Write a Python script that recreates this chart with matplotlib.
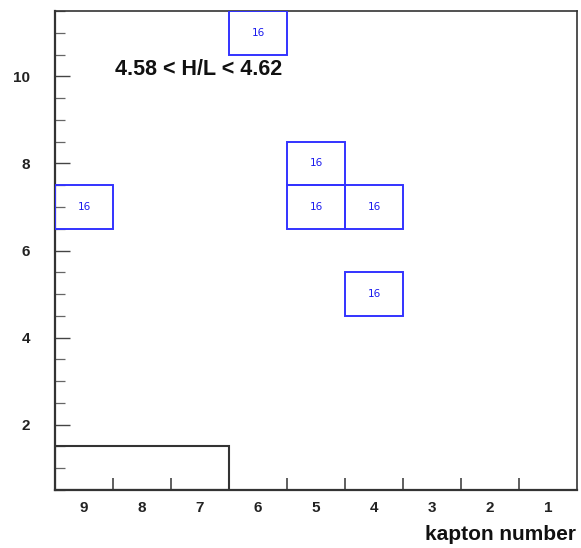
import matplotlib
matplotlib.use("Agg")
import matplotlib.pyplot as plt
from matplotlib.patches import Rectangle
from matplotlib.ticker import MultipleLocator, FixedLocator

plt.rcParams['font.family'] = ['Liberation Sans', 'DejaVu Sans']

# Filled cells of the 2D histogram: kapton number, y bin, content
cell_x = [6, 5, 5, 4, 9, 4]
cell_y = [11, 8, 7, 7, 7, 5]
cell_val = [16, 16, 16, 16, 16, 16]

# Outline box (kapton range and y range)
box_x = [9.5, 6.5]
box_y = [0.5, 1.5]

x_labels = [9, 8, 7, 6, 5, 4, 3, 2, 1]
y_labels = [2, 4, 6, 8, 10]

fig = plt.figure(figsize=(5.81, 5.48), dpi=100)
ax = fig.add_axes([0.0947, 0.1058, 0.8984, 0.8741])

ax.set_xlim(9.5, 0.5)
ax.set_ylim(0.5, 11.5)

for x, y, v in zip(cell_x, cell_y, cell_val):
    ax.add_patch(Rectangle((x - 0.5, y - 0.5), 1, 1, fill=False,
                           edgecolor='#3333ff', linewidth=1.4, zorder=3))
    ax.text(x, y, str(v), ha='center', va='center', fontsize=7.5,
            family='DejaVu Sans', color='#1a1aee', zorder=4)

ax.add_patch(Rectangle((min(box_x), min(box_y)), abs(box_x[1] - box_x[0]),
                       abs(box_y[1] - box_y[0]), fill=False,
                       edgecolor='#333333', linewidth=1.5, zorder=2))

ax.text(7.03, 10.16, "4.58 < H/L < 4.62", ha='center', va='center',
        fontsize=15.5, fontweight='bold', color='#111111')

# x axis: labels at integer bins, ticks at bin edges
ax.xaxis.set_major_locator(FixedLocator(x_labels))
ax.set_xticklabels([str(v) for v in x_labels], fontsize=11,
                   fontweight='bold', color='#222222')
ax.xaxis.set_minor_locator(FixedLocator([v + 0.5 for v in x_labels[1:]]))
ax.tick_params(axis='x', which='major', length=0, pad=8)
ax.tick_params(axis='x', which='minor', direction='in', length=9,
               width=1.2, color='#444444')

# y axis
ax.yaxis.set_major_locator(FixedLocator(y_labels))
ax.set_yticklabels([str(v) for v in y_labels], fontsize=11,
                   fontweight='bold', color='#222222')
ax.yaxis.set_minor_locator(MultipleLocator(0.5))
ax.tick_params(axis='y', which='major', direction='in', length=11,
               width=1.0, color='#444444', pad=18)
ax.tick_params(axis='y', which='minor', direction='in', length=7,
               width=0.9, color='#666666')

for s in ax.spines.values():
    s.set_linewidth(1.2)
    s.set_color('#333333')
ax.spines['left'].set_linewidth(1.6)
ax.spines['bottom'].set_linewidth(1.6)

fig.text(0.991, 0.008, "kapton number", ha='right', va='bottom',
         fontsize=15, fontweight='bold', color='#111111')

fig.savefig("out.png", dpi=100)
